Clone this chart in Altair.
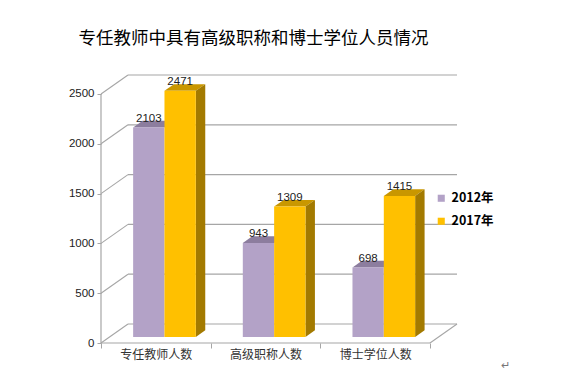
import altair as alt
import pandas as pd

# ---------------- data ----------------
categories = ["专任教师人数", "高级职称人数", "博士学位人数"]
series = ["2012年", "2017年"]
values_2012 = [2103, 943, 698]
values_2017 = [2471, 1309, 1415]
y_ticks = [0, 500, 1000, 1500, 2000, 2500]
title_text = "专任教师中具有高级职称和博士学位人员情况"

front_colors = ["#B3A2C7", "#FFC000"]
top_colors = ["#8C7D9E", "#C99700"]
side_colors = ["#7A6C8C", "#A37A00"]
grid_color = "#A6A6A6"

# ---------------- layout constants ----------------
W, H = 356, 268
NCAT = len(categories)
DX = 27 / (329 / 3)      # depth of the 3-D box, in category units
DY = 190.7               # depth of the 3-D box, in value units
Y_TOP = max(y_ticks)
BW = 1 / 3.5             # bar width (gap width 150%)
F0, F1 = 0.32, 0.67      # front/back depth fraction of the bars
CJK = "Noto Sans CJK SC"

# ---------------- derived tables ----------------
vals = [values_2012, values_2017]
fronts, tops, sides, labels = [], [], [], []
for i, cat in enumerate(categories):
    for s, name in enumerate(series):
        v = vals[s][i]
        x0 = i + 0.5 - BW + s * BW + F0 * DX
        x1 = x0 + BW
        yb = F0 * DY
        yt = v + F0 * DY
        dx = (F1 - F0) * DX
        dy = (F1 - F0) * DY
        bid = f"{i}-{s}"
        fronts.append(dict(series=name, x=x0, x2=x1, y=yb, y2=yt))
        tops.append(dict(bid=bid, s=s, y=yt, x=x0, x2=x1))
        tops.append(dict(bid=bid, s=s, y=yt + dy, x=x0 + dx, x2=x1 + dx))
        sides.append(dict(bid=bid, s=s, x=x1, y=yb, y2=yt))
        sides.append(dict(bid=bid, s=s, x=x1 + dx, y=yb + dy, y2=yt + dy))
        labels.append(dict(x=x0 + BW / 2, y=v + F1 * DY, text=str(v)))

fronts = pd.DataFrame(fronts)
tops = pd.DataFrame(tops)
sides = pd.DataFrame(sides)
labels = pd.DataFrame(labels)

grid = pd.DataFrame([dict(x=DX, x2=NCAT + DX, y=t + DY) for t in y_ticks])
diag = pd.DataFrame([dict(x=0, x2=DX, y=t, y2=t + DY) for t in y_ticks]
                    + [dict(x=NCAT, x2=NCAT + DX, y=0, y2=DY)])
front_lines = pd.DataFrame([dict(x=0, x2=NCAT, y=0, y2=0),
                            dict(x=0, x2=0, y=0, y2=Y_TOP)])

xscale = alt.Scale(domain=[0, NCAT + DX], nice=False, zero=False)
yscale = alt.Scale(domain=[0, Y_TOP + DY], nice=False, zero=False)

label_arr = "[" + ",".join(
    ["''"] + sum([[f"'{c}'", "''"] for c in categories], [])) + "]"

x_axis = alt.Axis(
    values=[k / 2 for k in range(2 * NCAT + 1)],
    labelExpr=f"{label_arr}[round(datum.value*2)]",
    tickOpacity={"condition": {"test": "round(datum.value*2) % 2 == 0", "value": 1}, "value": 0},
    tickSize=5, tickColor=grid_color, domain=False, grid=False,
    labelFont=CJK, labelFontSize=12, labelColor="#333333", labelPadding=1,
    labelBaseline="top", labelAngle=0, title=None,
)
y_axis = alt.Axis(
    values=y_ticks, format="d", tickSize=4, tickColor=grid_color, domain=False, grid=False,
    labelFont="Liberation Sans", labelFontSize=11.5, labelColor="#222222",
    labelPadding=3, title=None,
)

base_x = alt.X("x:Q", scale=xscale, axis=x_axis)
base_y = alt.Y("y:Q", scale=yscale, axis=y_axis)

grid_layer = alt.Chart(grid).mark_rule(color=grid_color, strokeWidth=1.2).encode(
    x=base_x, x2="x2:Q", y=base_y)
diag_layer = alt.Chart(diag).mark_rule(color=grid_color, strokeWidth=1.1).encode(
    x=base_x, x2="x2:Q", y=base_y, y2="y2:Q")
front_layer_lines = alt.Chart(front_lines).mark_rule(color=grid_color, strokeWidth=1.2).encode(
    x=base_x, x2="x2:Q", y=base_y, y2="y2:Q")

layers = [grid_layer, diag_layer, front_layer_lines]

for s in range(len(series)):
    layers.append(
        alt.Chart(tops[tops.s == s]).mark_area(orient="horizontal", color=top_colors[s]).encode(
            y=base_y, x=alt.X("x:Q", scale=xscale, axis=x_axis, stack=None), x2="x2:Q",
            detail="bid:N"))
layers.append(
    alt.Chart(sides[sides.s == 1]).mark_area(orient="vertical", color=side_colors[1]).encode(
        x=base_x, y=alt.Y("y:Q", scale=yscale, axis=y_axis, stack=None), y2="y2:Q",
        detail="bid:N"))

front_layer = alt.Chart(fronts).mark_rect().encode(
    x=base_x, x2="x2:Q", y=base_y, y2="y2:Q",
    color=alt.Color("series:N",
                    scale=alt.Scale(domain=series, range=front_colors),
                    legend=alt.Legend(
                        title=None, orient="none", legendX=334, legendY=117,
                        symbolType="square", symbolSize=50, symbolStrokeWidth=0,
                        labelFont=CJK, labelFontSize=12.5, labelFontWeight="bold",
                        labelColor="#000000", rowPadding=10, padding=0, labelOffset=4,
                    )),
)
layers.append(front_layer)

text_layer = alt.Chart(labels).mark_text(
    font="Liberation Sans", fontSize=11.5, color="#222222", baseline="alphabetic", dy=1
).encode(x=base_x, y=base_y, text="text:N")
layers.append(text_layer)

mark_layer = alt.Chart(pd.DataFrame({"t": ["↵"]})).mark_text(
    fontSize=11, color="#777777").encode(
    x=alt.value(404), y=alt.value(291), text="t:N")
layers.append(mark_layer)

chart = alt.layer(*layers).properties(
    width=W, height=H,
    background="white",
    title=alt.TitleParams(title_text, anchor="start", font=CJK, fontSize=17.5,
                          fontWeight="normal", color="#000000", dx=10, offset=9,
                          baseline="bottom"),
    autosize=alt.AutoSizeParams(type="none"),
    padding={"left": 93, "top": 67, "right": 105, "bottom": 30},
).configure_view(stroke=None)

chart.save("out.html", embed_options={"renderer": "svg", "actions": False})
